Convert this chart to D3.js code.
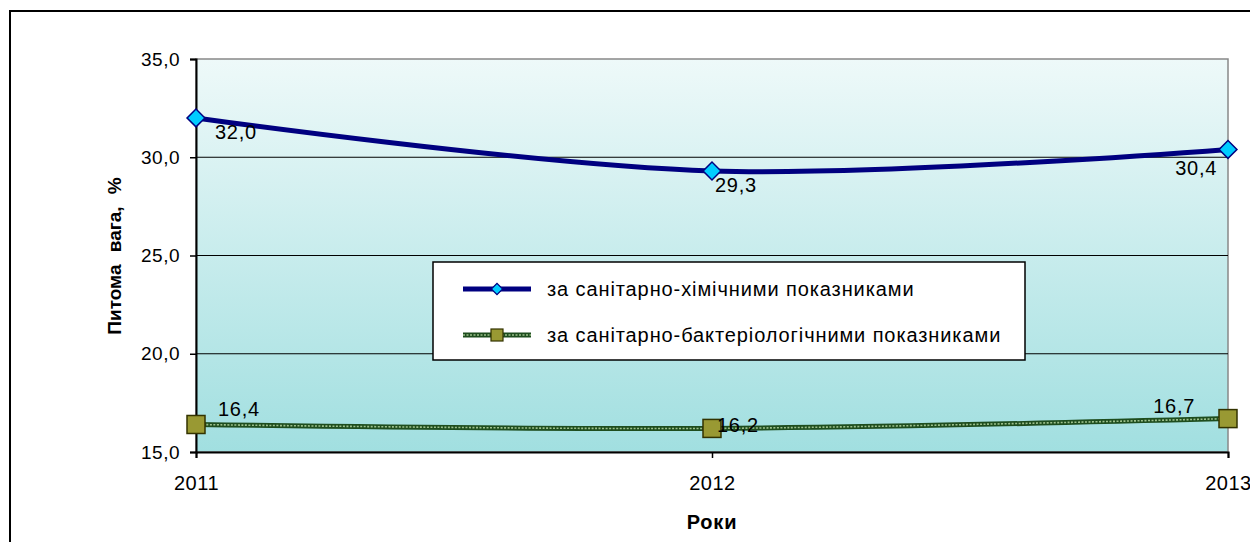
<!DOCTYPE html>
<html>
<head>
<meta charset="utf-8">
<script src="https://cdn.jsdelivr.net/npm/d3@7"></script>
<style>
  html, body { margin: 0; padding: 0; background: #fff; }
  svg { display: block; font-family: Arial, "Liberation Sans", sans-serif; }
</style>
</head>
<body>
<svg id="chart" width="1250" height="542"></svg>
<script>
// data
const years      = ['2011', '2012', '2013'];
const chemValues = [32.0, 29.3, 30.4];
const bactValues = [16.4, 16.2, 16.7];
const yTicks     = [15, 20, 25, 30, 35];
const seriesNames = ['за санітарно-хімічними показниками', 'за санітарно-бактеріологічними показниками'];

const svg = d3.select('#chart');

const plot = { left: 196, right: 1228, top: 59, bottom: 452 };

const x = d3.scalePoint().domain(years).range([plot.left, plot.right]);
const y = d3.scaleLinear().domain([15, 35]).range([plot.bottom, plot.top]);
const fmt = v => d3.format('.1f')(v).replace('.', ',');

// outer frame
svg.append('rect')
  .attr('x', 10).attr('y', 11)
  .attr('width', 1260).attr('height', 600)
  .attr('fill', 'none').attr('stroke', '#000').attr('stroke-width', 2);

// plot background gradient
const defs = svg.append('defs');
const grad = defs.append('linearGradient')
  .attr('id', 'bg').attr('x1', 0).attr('y1', 0).attr('x2', 0).attr('y2', 1);
grad.append('stop').attr('offset', '0%').attr('stop-color', '#eef9f9');
grad.append('stop').attr('offset', '100%').attr('stop-color', '#a1dfe0');

svg.append('rect')
  .attr('x', plot.left).attr('y', plot.top)
  .attr('width', plot.right - plot.left).attr('height', plot.bottom - plot.top)
  .attr('fill', 'url(#bg)')
  .attr('stroke', '#888').attr('stroke-width', 1.5);

// gridlines
svg.append('g')
  .selectAll('line')
  .data(yTicks.filter(t => t > 15 && t < 35))
  .join('line')
  .attr('x1', plot.left).attr('x2', plot.right)
  .attr('y1', d => y(d)).attr('y2', d => y(d))
  .attr('stroke', '#000').attr('stroke-width', 1.2);

// y axis
const yAxis = svg.append('g')
  .attr('transform', `translate(${plot.left},0)`)
  .call(d3.axisLeft(y).tickValues(yTicks).tickFormat(fmt).tickSize(6).tickPadding(10));
yAxis.select('.domain').attr('stroke', '#000').attr('stroke-width', 2);
yAxis.selectAll('.tick line').attr('stroke', '#000').attr('stroke-width', 1.5);
yAxis.selectAll('text').attr('font-size', 19).attr('fill', '#000')
  .attr('letter-spacing', 0.5)
  .attr('font-family', 'Arial, "Liberation Sans", sans-serif');

// x axis
const xAxis = svg.append('g')
  .attr('transform', `translate(0,${plot.bottom})`)
  .call(d3.axisBottom(x).tickSize(6).tickPadding(18));
xAxis.select('.domain').attr('stroke', '#000').attr('stroke-width', 2);
xAxis.selectAll('.tick line').attr('stroke', '#000').attr('stroke-width', 1.5);
xAxis.selectAll('text').attr('font-size', 20).attr('fill', '#000')
  .attr('letter-spacing', 0.5)
  .attr('font-family', 'Arial, "Liberation Sans", sans-serif');

// axis titles
svg.append('text')
  .attr('x', (plot.left + plot.right) / 2).attr('y', 529)
  .attr('text-anchor', 'middle')
  .attr('font-size', 20).attr('font-weight', 'bold').attr('letter-spacing', 0.8)
  .text('Роки');

svg.append('text')
  .attr('transform', 'translate(121,256) rotate(-90)')
  .attr('text-anchor', 'middle')
  .attr('font-size', 19).attr('font-weight', 'bold')
  .attr('word-spacing', 7)
  .text('Питома вага, %');

// lines
const line = d3.line()
  .x((d, i) => x(years[i]))
  .y(d => y(d))
  .curve(d3.curveCatmullRom.alpha(0.5));

function drawPatternLine(g, path) {
  g.append('path').attr('d', path)
    .attr('fill', 'none').attr('stroke', '#1e4d1e').attr('stroke-width', 5);
  g.append('path').attr('d', path)
    .attr('fill', 'none').attr('stroke', '#9cc08c').attr('stroke-width', 1.6)
    .attr('stroke-dasharray', '2,1.5');
}

const bactG = svg.append('g');
drawPatternLine(bactG, line(bactValues));

svg.append('path')
  .attr('d', line(chemValues))
  .attr('fill', 'none').attr('stroke', '#000080').attr('stroke-width', 5);

// markers
const diamond = d3.symbol().type(d3.symbolSquare).size(160);
svg.append('g')
  .selectAll('path')
  .data(chemValues)
  .join('path')
  .attr('d', diamond)
  .attr('transform', (d, i) => `translate(${x(years[i])},${y(d)}) rotate(45)`)
  .attr('fill', '#00ccff').attr('stroke', '#000080').attr('stroke-width', 1.5);

svg.append('g')
  .selectAll('rect')
  .data(bactValues)
  .join('rect')
  .attr('x', (d, i) => x(years[i]) - 9)
  .attr('y', d => y(d) - 9)
  .attr('width', 18).attr('height', 18)
  .attr('fill', '#999933').attr('stroke', '#333300').attr('stroke-width', 1.5);

// data labels
const chemLabelOffset = [[19, 21, 'start'], [3, 21, 'start'], [-11, 26, 'end']];
const bactLabelOffset = [[22, -8, 'start'], [5, 4, 'start'], [-33, -6, 'end']];

svg.append('g')
  .selectAll('text')
  .data(chemValues)
  .join('text')
  .attr('x', (d, i) => x(years[i]) + chemLabelOffset[i][0])
  .attr('y', d => y(d))
  .attr('dy', (d, i) => chemLabelOffset[i][1])
  .attr('text-anchor', (d, i) => chemLabelOffset[i][2])
  .attr('font-size', 20).attr('letter-spacing', 0.7)
  .text(fmt);

svg.append('g')
  .selectAll('text')
  .data(bactValues)
  .join('text')
  .attr('x', (d, i) => x(years[i]) + bactLabelOffset[i][0])
  .attr('y', d => y(d))
  .attr('dy', (d, i) => bactLabelOffset[i][1])
  .attr('text-anchor', (d, i) => bactLabelOffset[i][2])
  .attr('font-size', 20).attr('letter-spacing', 0.7)
  .text(fmt);

// legend
const legend = svg.append('g').attr('transform', 'translate(433,262)');
legend.append('rect')
  .attr('width', 592).attr('height', 98)
  .attr('fill', '#fff').attr('stroke', '#000').attr('stroke-width', 1.5);

const l1 = legend.append('g').attr('transform', 'translate(0,27)');
l1.append('line').attr('x1', 30).attr('x2', 98)
  .attr('stroke', '#000080').attr('stroke-width', 5);
l1.append('path').attr('d', d3.symbol().type(d3.symbolSquare).size(64))
  .attr('transform', 'translate(64,0) rotate(45)')
  .attr('fill', '#00ccff').attr('stroke', '#000080').attr('stroke-width', 1.2);
l1.append('text').attr('x', 114).attr('y', 7)
  .attr('font-size', 20).attr('letter-spacing', 0.9).text(seriesNames[0]);

const l2 = legend.append('g').attr('transform', 'translate(0,73)');
drawPatternLine(l2, 'M30,0L98,0');
l2.append('rect').attr('x', 58).attr('y', -6).attr('width', 12).attr('height', 12)
  .attr('fill', '#999933').attr('stroke', '#333300').attr('stroke-width', 1.2);
l2.append('text').attr('x', 114).attr('y', 7)
  .attr('font-size', 20).attr('letter-spacing', 0.9).text(seriesNames[1]);
</script>
</body>
</html>
